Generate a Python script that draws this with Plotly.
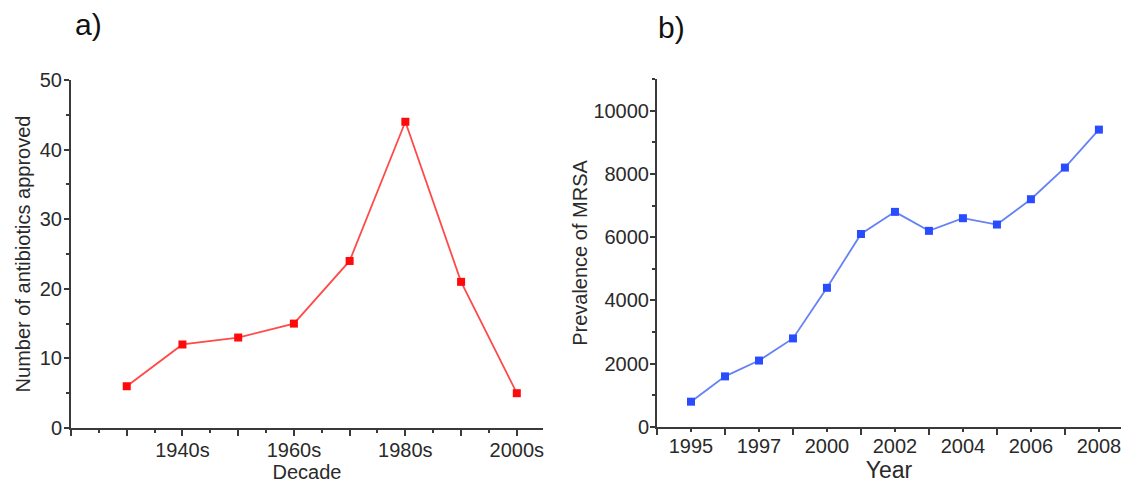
import plotly.graph_objects as go

# ---- data ----
decades = [1930, 1940, 1950, 1960, 1970, 1980, 1990, 2000]
antibiotics_approved = [6, 12, 13, 15, 24, 44, 21, 5]
decade_tick_values = [1940, 1960, 1980, 2000]
decade_tick_labels = ["1940s", "1960s", "1980s", "2000s"]

mrsa_prevalence = [800, 1600, 2100, 2800, 4400, 6100, 6800, 6200, 6600, 6400, 7200, 8200, 9400]
year_tick_labels = ["1995", "1997", "2000", "2002", "2004", "2006", "2008"]

W, H = 1121, 489
FONT = "Liberation Sans, Arial, sans-serif"
AX = "#3a3a3a"
TXT = "#2a2a2a"

def px(x):
    return x / W

def py(y):
    return (H - y) / H

fig = go.Figure()

fig.add_trace(go.Scatter(
    x=decades, y=antibiotics_approved, mode="lines+markers",
    line=dict(color="#ff4a4a", width=1.8),
    marker=dict(symbol="square", size=8, color="#ff0a0a"),
    xaxis="x", yaxis="y", showlegend=False,
))

mrsa_x = list(range(len(mrsa_prevalence)))
fig.add_trace(go.Scatter(
    x=mrsa_x, y=mrsa_prevalence, mode="lines+markers",
    line=dict(color="#6482f5", width=1.8),
    marker=dict(symbol="square", size=8, color="#2a4cff"),
    xaxis="x2", yaxis="y2", showlegend=False,
))

label_map = dict(zip(decade_tick_values, decade_tick_labels))
left_tickvals = list(range(1920, 2001, 10))
left_ticktext = [label_map.get(v, "") for v in left_tickvals]

right_tickvals = list(range(0, len(mrsa_prevalence), 2))

common_axis = dict(
    showline=True, linecolor=AX, linewidth=2, showgrid=False, zeroline=False,
    ticks="outside", tickcolor=AX, tickwidth=1.5, automargin=False,
    ticklabeloverflow="allow",
    tickfont=dict(family=FONT, size=20, color=TXT),
)

fig.update_layout(
    template="none",
    width=W, height=H,
    margin=dict(l=0, r=0, t=0, b=0),
    paper_bgcolor="white", plot_bgcolor="white",
    xaxis=dict(
        **common_axis,
        domain=[px(71), px(543)], range=[1920, 2004.7],
        tickmode="array", tickvals=left_tickvals, ticktext=left_ticktext, ticklen=6,
        ticklabelstandoff=-3,
        minor=dict(ticks="outside", tickmode="linear", tick0=1925, dtick=10, ticklen=3,
                   tickcolor=AX, tickwidth=1.5),
        anchor="y",
        title=dict(text="Decade", font=dict(family=FONT, size=20, color=TXT), standoff=0),
    ),
    yaxis=dict(
        **common_axis,
        domain=[py(428), py(80)], range=[0, 50],
        tickmode="linear", tick0=0, dtick=10, ticklen=5,
        ticklabelstandoff=-2,
        minor=dict(ticks="outside", tickmode="linear", tick0=5, dtick=10, ticklen=3,
                   tickcolor=AX, tickwidth=1.5),
        anchor="x",
        title=dict(text="Number of antibiotics approved", font=dict(family=FONT, size=20, color=TXT), standoff=4),
    ),
    xaxis2=dict(
        **common_axis,
        domain=[px(657), 1.0], range=[-1, 12.65],
        tickmode="array", tickvals=right_tickvals, ticktext=year_tick_labels, ticklen=3,
        ticklabelstandoff=-3,
        minor=dict(ticks="outside", tickmode="linear", tick0=-1, dtick=2, ticklen=6,
                   tickcolor=AX, tickwidth=1.5),
        anchor="y2",
        title=dict(text="Year", font=dict(family=FONT, size=23, color=TXT), standoff=0),
    ),
    yaxis2=dict(
        **common_axis,
        domain=[py(427), py(79)], range=[0, 11000],
        tickmode="linear", tick0=0, dtick=2000, ticklen=5, tickformat="d",
        ticklabelstandoff=-3,
        minor=dict(ticks="outside", tickmode="linear", tick0=1000, dtick=2000, ticklen=3,
                   tickcolor=AX, tickwidth=1.5),
        anchor="x2",
        title=dict(text="Prevalence of MRSA", font=dict(family=FONT, size=20, color=TXT), standoff=0),
    ),
    annotations=[
        dict(text="a)", x=px(88), y=py(24), xref="paper", yref="paper",
             showarrow=False, font=dict(family=FONT, size=30, color="#111111"),
             xanchor="center", yanchor="middle"),
        dict(text="b)", x=px(671), y=py(27), xref="paper", yref="paper",
             showarrow=False, font=dict(family=FONT, size=30, color="#111111"),
             xanchor="center", yanchor="middle"),
    ],
)

fig.write_html("out.html")
